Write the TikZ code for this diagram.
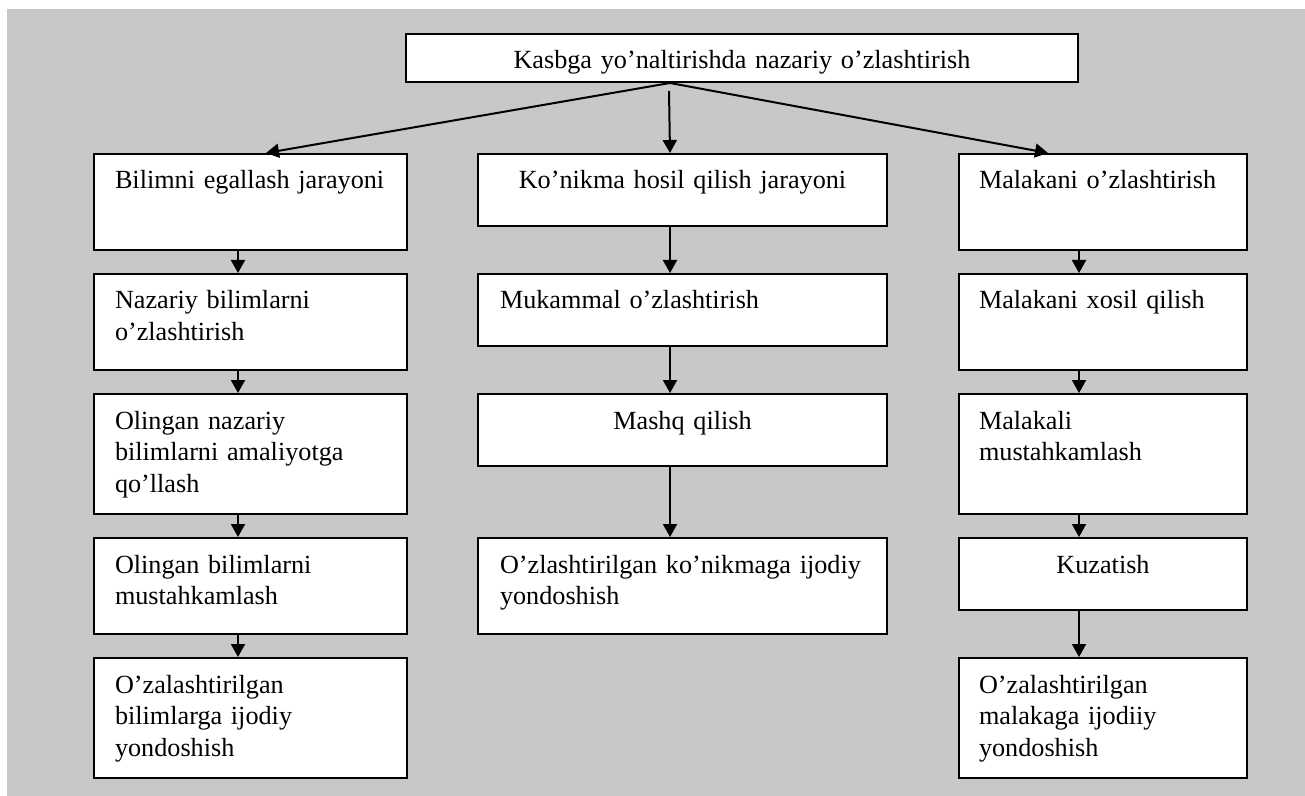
\documentclass[tikz,border=0pt]{standalone}
\usepackage{fontspec}
\setmainfont{Liberation Serif}
\usetikzlibrary{arrows.meta}
\definecolor{fongray}{RGB}{200,200,200}

\begin{document}
\begin{tikzpicture}[x=0.5pt,y=-0.5pt,
  blok/.style={draw,fill=white,line width=1pt,anchor=north west,inner ysep=0pt,
    text height=17.5pt,font=\fontsize{13.1pt}{15.85pt}\selectfont},
  lcol/.style={blok,inner xsep=10.5pt,text width=135.5pt,align=left},
  mcol/.style={blok,inner xsep=11pt,text width=182.5pt,align=left},
  rcol/.style={blok,inner xsep=10pt,text width=124pt,align=left},
  h48/.style={text depth=30.5pt},
  h36/.style={text depth=18.5pt},
  h60/.style={text depth=42.5pt},
  arr/.style={-{Triangle[length=6.5pt,width=7pt]},line width=1pt}]
              \useasboundingbox (0,0) rectangle (1305,796);
              \fill[fongray] (7,9) rectangle (1305,796);

              \node[blok,inner xsep=10.5pt,text width=315pt,align=center,text depth=6.5pt] (t) at (405,33) {Kasbga yo’naltirishda nazariy o’zlashtirish};
              \coordinate (f) at ([xshift=-36pt]t.south);

              \node[lcol,h48] (a1) at (93,153) {\mbox{Bilimni egallash jarayoni}};
              \node[lcol,h48] (a2) at (93,273) {Nazariy bilimlarni\\o’zlashtirish};
              \node[lcol,h60] (a3) at (93,393) {Olingan nazariy\\\mbox{bilimlarni amaliyotga}\\qo’llash};
              \node[lcol,h48] (a4) at (93,537) {Olingan bilimlarni\\mustahkamlash};
              \node[lcol,h60] (a5) at (93,657) {O’zalashtirilgan\\bilimlarga ijodiy\\yondoshish};

              \node[mcol,h36,align=center] (b1) at (477,153) {Ko’nikma hosil qilish jarayoni};
              \node[mcol,h36] (b2) at (477,273) {Mukammal o’zlashtirish};
              \node[mcol,h36,align=center] (b3) at (477,393) {Mashq qilish};
              \node[mcol,h48] (b4) at (477,537) {\mbox{O’zlashtirilgan ko’nikmaga ijodiy}\\yondoshish};

              \node[rcol,h48] (c1) at (958,153) {\mbox{Malakani o’zlashtirish}};
              \node[rcol,h48] (c2) at (958,273) {Malakani xosil qilish};
              \node[rcol,h60] (c3) at (958,393) {Malakali\\mustahkamlash};
              \node[rcol,h36,align=center] (c4) at (958,537) {Kuzatish};
              \node[rcol,h60] (c5) at (958,657) {O’zalashtirilgan\\malakaga ijodiiy\\yondoshish};

              \draw[arr] (f) -- ([xshift=7.75pt]a1.north);
              \draw[arr] ([xshift=-0.5pt,yshift=-4pt]f) -- ([xshift=-6.25pt]b1.north);
              \draw[arr] (f) -- ([xshift=-27.5pt]c1.north);

              \draw[arr] ([xshift=-6.25pt]a1.south) -- ([xshift=-6.25pt]a2.north);
              \draw[arr] ([xshift=-6.25pt]a2.south) -- ([xshift=-6.25pt]a3.north);
              \draw[arr] ([xshift=-6.25pt]a3.south) -- ([xshift=-6.25pt]a4.north);
              \draw[arr] ([xshift=-6.25pt]a4.south) -- ([xshift=-6.25pt]a5.north);

              \draw[arr] ([xshift=-6.25pt]b1.south) -- ([xshift=-6.25pt]b2.north);
              \draw[arr] ([xshift=-6.25pt]b2.south) -- ([xshift=-6.25pt]b3.north);
              \draw[arr] ([xshift=-6.25pt]b3.south) -- ([xshift=-6.25pt]b4.north);

              \draw[arr] ([xshift=-12pt]c1.south) -- ([xshift=-12pt]c2.north);
              \draw[arr] ([xshift=-12pt]c2.south) -- ([xshift=-12pt]c3.north);
              \draw[arr] ([xshift=-12pt]c3.south) -- ([xshift=-12pt]c4.north);
              \draw[arr] ([xshift=-12pt]c4.south) -- ([xshift=-12pt]c5.north);
            \end{tikzpicture}
\end{document}
